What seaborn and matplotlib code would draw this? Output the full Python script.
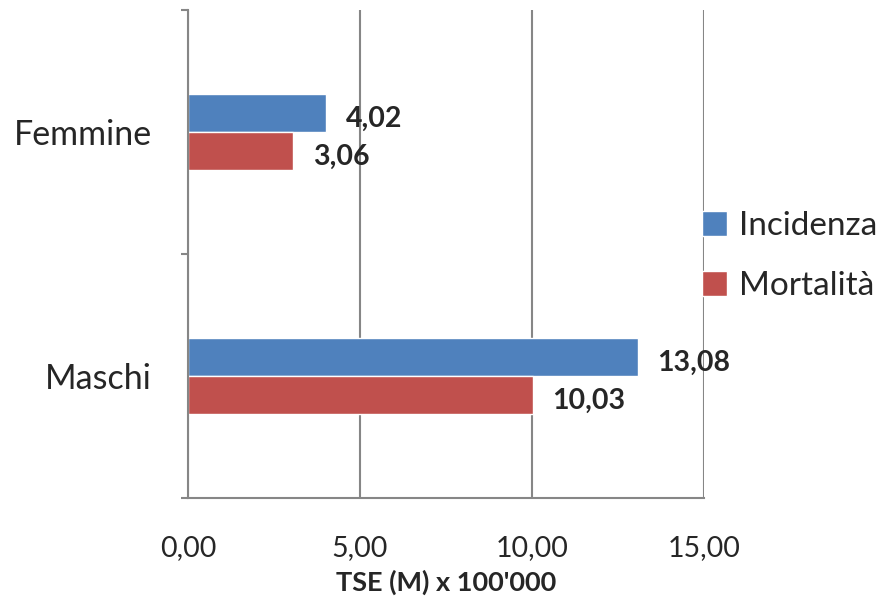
import matplotlib
matplotlib.use("Agg")
import matplotlib.pyplot as plt
import seaborn as sns
import pandas as pd
from matplotlib.ticker import FuncFormatter

# data
categories = ["Femmine", "Maschi"]
series = ["Incidenza", "Mortalità"]
incidenza = [4.02, 13.08]
mortalita = [3.06, 10.03]
x_ticks = [0, 5, 10, 15]
x_label = "TSE (M) x 100'000"

df = pd.DataFrame({
    "sesso": categories * 2,
    "serie": [series[0]] * 2 + [series[1]] * 2,
    "valore": incidenza + mortalita,
})

sns.set_theme(style="white")
plt.rcParams["font.family"] = ["Lato", "DejaVu Sans"]

GRID = "#868686"
fig = plt.figure(figsize=(8.79, 6.02), dpi=100)
ax = fig.add_axes([188 / 879, 1 - 498 / 602, 516 / 879, 488 / 602])

sns.barplot(data=df, x="valore", y="sesso", hue="serie", orient="h",
            palette=["#4F81BD", "#C0504D"], width=0.31, saturation=1,
            ax=ax, legend=True)

ax.set_xlim(0, 15)
ax.set_ylim(1.5, -0.5)
ax.set_xticks(x_ticks)
ax.xaxis.set_major_formatter(FuncFormatter(lambda v, p: f"{v:.2f}".replace(".", ",")))
ax.tick_params(axis="x", length=5, color=GRID, width=1.5, direction="out",
               pad=22, labelsize=20.5)
ax.set_yticks([0, 1])
ax.set_yticklabels(categories)
ax.set_yticks([-0.5, 0.5, 1.5], minor=True)
ax.tick_params(axis="y", which="major", length=0, pad=26, labelsize=24.5)
ax.tick_params(axis="y", which="minor", length=5, color=GRID, width=1.5, left=True)

ax.grid(axis="x", color=GRID, linewidth=1.5)
ax.grid(axis="y", visible=False)
for side in ["top", "right"]:
    ax.spines[side].set_visible(False)
for side in ["left", "bottom"]:
    ax.spines[side].set_color(GRID)
    ax.spines[side].set_linewidth(1.5)

ax.set_ylabel("")
ax.set_xlabel(x_label, fontsize=19.5, fontweight="bold", labelpad=6)

# value labels sit a little below the bar centre, as in the original
for cont in ax.containers:
    labels = [f"{v:.2f}".replace(".", ",") for v in cont.datavalues]
    texts = ax.bar_label(cont, labels=labels, padding=14,
                         fontsize=20.5, fontweight="bold")
    for t in texts:
        x, y = t.xyann
        t.xyann = (x, y - 4)

ax.legend(loc="center left", bbox_to_anchor=(702 / 879, 1 - 256 / 602),
          bbox_transform=fig.transFigure, frameon=False, fontsize=24,
          handlelength=0.75, handleheight=0.75, handletextpad=0.35,
          labelspacing=0.9, borderaxespad=0, borderpad=0)

fig.savefig("out.png", dpi=100)
